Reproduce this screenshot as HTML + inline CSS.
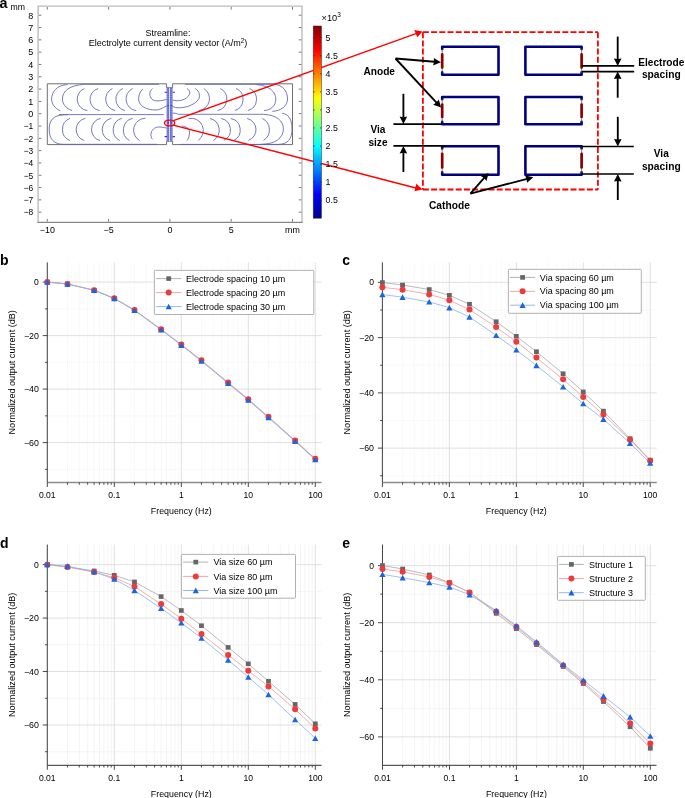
<!DOCTYPE html>
<html><head><meta charset="utf-8"><style>
html,body{margin:0;padding:0;background:#fff;width:685px;height:798px;overflow:hidden}
svg text{font-family:'Liberation Sans',sans-serif}
svg{will-change:transform}
</style></head><body>
<svg width="685" height="798" viewBox="0 0 685 798" style="display:block;font-family:'Liberation Sans',sans-serif"><text x="-0.5" y="7.7" font-size="14.4" font-weight="bold">a</text>
<text x="10.6" y="10.2" font-size="8.8" textLength="14.5" lengthAdjust="spacingAndGlyphs" fill="#000">mm</text>
<path d="M38.1 222.2V6.1H302V222.2" fill="none" stroke="#bcbcbc" stroke-width="1.4"/>
<path d="M37.4 222.3H302.7" fill="none" stroke="#6a6a6a" stroke-width="1.0"/>
<path d="M38.8 212.18h2.6M301.4 212.18h-2.6" stroke="#555" stroke-width="0.8"/>
<text x="33.3" y="215.48000000000002" font-size="9.0" text-anchor="end" textLength="9.6" lengthAdjust="spacingAndGlyphs" fill="#000">&#8722;8</text>
<path d="M38.8 199.87h2.6M301.4 199.87h-2.6" stroke="#555" stroke-width="0.8"/>
<text x="33.3" y="203.17000000000002" font-size="9.0" text-anchor="end" textLength="9.6" lengthAdjust="spacingAndGlyphs" fill="#000">&#8722;7</text>
<path d="M38.8 187.56h2.6M301.4 187.56h-2.6" stroke="#555" stroke-width="0.8"/>
<text x="33.3" y="190.86" font-size="9.0" text-anchor="end" textLength="9.6" lengthAdjust="spacingAndGlyphs" fill="#000">&#8722;6</text>
<path d="M38.8 175.25h2.6M301.4 175.25h-2.6" stroke="#555" stroke-width="0.8"/>
<text x="33.3" y="178.55" font-size="9.0" text-anchor="end" textLength="9.6" lengthAdjust="spacingAndGlyphs" fill="#000">&#8722;5</text>
<path d="M38.8 162.94h2.6M301.4 162.94h-2.6" stroke="#555" stroke-width="0.8"/>
<text x="33.3" y="166.24" font-size="9.0" text-anchor="end" textLength="9.6" lengthAdjust="spacingAndGlyphs" fill="#000">&#8722;4</text>
<path d="M38.8 150.63h2.6M301.4 150.63h-2.6" stroke="#555" stroke-width="0.8"/>
<text x="33.3" y="153.93" font-size="9.0" text-anchor="end" textLength="9.6" lengthAdjust="spacingAndGlyphs" fill="#000">&#8722;3</text>
<path d="M38.8 138.32h2.6M301.4 138.32h-2.6" stroke="#555" stroke-width="0.8"/>
<text x="33.3" y="141.62" font-size="9.0" text-anchor="end" textLength="9.6" lengthAdjust="spacingAndGlyphs" fill="#000">&#8722;2</text>
<path d="M38.8 126.01h2.6M301.4 126.01h-2.6" stroke="#555" stroke-width="0.8"/>
<text x="33.3" y="129.31" font-size="9.0" text-anchor="end" textLength="9.6" lengthAdjust="spacingAndGlyphs" fill="#000">&#8722;1</text>
<path d="M38.8 113.70h2.6M301.4 113.70h-2.6" stroke="#555" stroke-width="0.8"/>
<text x="33.3" y="117.0" font-size="9.0" text-anchor="end" fill="#000">0</text>
<path d="M38.8 101.39h2.6M301.4 101.39h-2.6" stroke="#555" stroke-width="0.8"/>
<text x="33.3" y="104.69" font-size="9.0" text-anchor="end" fill="#000">1</text>
<path d="M38.8 89.08h2.6M301.4 89.08h-2.6" stroke="#555" stroke-width="0.8"/>
<text x="33.3" y="92.38" font-size="9.0" text-anchor="end" fill="#000">2</text>
<path d="M38.8 76.77h2.6M301.4 76.77h-2.6" stroke="#555" stroke-width="0.8"/>
<text x="33.3" y="80.07000000000001" font-size="9.0" text-anchor="end" fill="#000">3</text>
<path d="M38.8 64.46h2.6M301.4 64.46h-2.6" stroke="#555" stroke-width="0.8"/>
<text x="33.3" y="67.76" font-size="9.0" text-anchor="end" fill="#000">4</text>
<path d="M38.8 52.15h2.6M301.4 52.15h-2.6" stroke="#555" stroke-width="0.8"/>
<text x="33.3" y="55.449999999999996" font-size="9.0" text-anchor="end" fill="#000">5</text>
<path d="M38.8 39.84h2.6M301.4 39.84h-2.6" stroke="#555" stroke-width="0.8"/>
<text x="33.3" y="43.14" font-size="9.0" text-anchor="end" fill="#000">6</text>
<path d="M38.8 27.53h2.6M301.4 27.53h-2.6" stroke="#555" stroke-width="0.8"/>
<text x="33.3" y="30.830000000000002" font-size="9.0" text-anchor="end" fill="#000">7</text>
<path d="M38.8 15.22h2.6M301.4 15.22h-2.6" stroke="#555" stroke-width="0.8"/>
<text x="33.3" y="18.52" font-size="9.0" text-anchor="end" fill="#000">8</text>
<path d="M47.30 221.6v-2.6M47.30 7v2.6" stroke="#555" stroke-width="0.8"/>
<text x="47.30000000000001" y="233.4" font-size="8.9" text-anchor="middle" fill="#000">&#8722;10</text>
<path d="M108.60 221.6v-2.6M108.60 7v2.6" stroke="#555" stroke-width="0.8"/>
<text x="108.60000000000001" y="233.4" font-size="8.9" text-anchor="middle" fill="#000">&#8722;5</text>
<path d="M169.90 221.6v-2.6M169.90 7v2.6" stroke="#555" stroke-width="0.8"/>
<text x="169.9" y="233.4" font-size="8.9" text-anchor="middle" fill="#000">0</text>
<path d="M231.20 221.6v-2.6M231.20 7v2.6" stroke="#555" stroke-width="0.8"/>
<text x="231.2" y="233.4" font-size="8.9" text-anchor="middle" fill="#000">5</text>
<path d="M292.50 221.6v-2.6M292.50 7v2.6" stroke="#555" stroke-width="0.8"/>
<text x="292.5" y="233.4" font-size="8.9" text-anchor="middle" fill="#000">mm</text>
<text x="168" y="35.5" font-size="8.9" text-anchor="middle" fill="#000">Streamline:</text>
<text x="88.7" y="46.4" font-size="9">Electrolyte current density vector (A/m<tspan dy="-3.6" font-size="6.3">2</tspan><tspan dy="3.6">)</tspan></text>
<path d="M47.3 83.8H166.6V87.6H172.6V83.8H292.5V144.6H172.6V141.3H166.6V144.6H47.3Z" fill="none" stroke="#707070" stroke-width="1"/>
<rect x="166.6" y="87.6" width="6" height="53.7" fill="#7888ea"/>
<path d="M168.3 88.2V141M170.8 88.2V141" stroke="#3c48e0" stroke-width="1.0" stroke-dasharray="1 1.2" opacity="0.8"/>
<path d="M169.55 87.6V141.3" stroke="#ffffff" stroke-width="0.9" opacity="0.9"/>
<path d="M166.9 88.5V141M172.3 88.5V141" stroke="#d06050" stroke-width="0.6" stroke-dasharray="0.8 1.4" opacity="0.8"/>
<path d="M164.6 92.3h2.4M172.6 92.3h2.4M164.6 136.6h2.4M172.6 136.6h2.4M167.2 105.7h1.6M170.6 105.7h1.6M167.2 122.9h1.6M170.6 122.9h1.6" stroke="#2a3ad0" stroke-width="1.1"/>
<g fill="none" stroke="#5e60b6" stroke-width="0.85"><path d="M67.5 84.6C57 85 51.6 92 51.6 99C51.6 104 55 108.5 60.3 110.7"/><path d="M84.3 84.4C70 85 62.4 91 62.4 99C62.4 104 66 108.5 72.1 110.5"/><path d="M84.3 88.5A11.53 11.53 0 0 0 87.4 110.6"/><path d="M98.1 88.5A11.35 11.35 0 0 0 99.7 110.6"/><path d="M112.4 88.5A11.72 11.72 0 0 0 115.2 110.6"/><path d="M122.9 88.5A11.70 11.70 0 0 0 124.9 110.6"/><path d="M132.6 88.5A11.68 11.68 0 0 0 136.2 110.6"/><path d="M84.3 84.3H159"/><path d="M142.8 89C139.5 92 138.5 96 138.7 100C139.5 106 146 110 156 110C160 110 162 108 166.6 106"/><path d="M152.5 88.5C149.5 91 149 95 151 98C153 101 157 102 166.6 99.4"/><path d="M59 114.6H163.8"/><path d="M68 114.6C56 114.6 49.3 117.5 49.2 129C49.1 140 55 144.3 63 144.3H157"/><path d="M70 118.3A11.98 11.98 0 0 0 70 140.6"/><path d="M85.4 118.3A11.53 11.53 0 0 0 84.3 140.6"/><path d="M100.7 118.3A11.46 11.46 0 0 0 100 140.6"/><path d="M111.4 118.3A11.59 11.59 0 0 0 110 140.6"/><path d="M121.9 118.3A12.03 12.03 0 0 0 119.8 140.6"/><path d="M132.6 118.3A12.12 12.12 0 0 0 129.5 140.6"/><path d="M145.4 118.3A11.90 11.90 0 0 0 139.7 140.6"/><path d="M166.6 128C161 127 157 126 153.5 129C150 132 150.5 137 152.5 139.3"/><path d="M172.6 100C178 102 187 100 189.5 94.3C190.5 91.5 189 89.5 187 88.7"/><path d="M172.6 106.6C180 110 195 106 199 98.5C200.5 94 198 90 195.1 88.5"/><path d="M203.8 88.5A11.89 11.89 0 0 1 198.7 110.5"/><path d="M220.2 88.5A11.73 11.73 0 0 1 217.6 110.5"/><path d="M236.1 88.5A11.79 11.79 0 0 1 234.9 110.5"/><path d="M249.5 88.5A11.68 11.68 0 0 1 247.8 110.5"/><path d="M256.5 84.5C270 86 275.8 92 275.8 99C275.8 106 271 110 264.1 110.6"/><path d="M274 84.3C283 85 287.5 91 287.5 99C287.5 106 281 111 272.3 111.3"/><path d="M185 84.3H274"/><path d="M172.6 113.2H175.2C176.5 113.2 177 114.3 178.6 114.3H263.5"/><path d="M181.9 126C186 126.5 189.5 128.5 189.5 132C189.5 136 188.5 139 187 140.5"/><path d="M188.5 118.5A12.22 12.22 0 0 1 198.2 140.4"/><path d="M210 118.5A11.99 11.99 0 0 1 213.5 140.4"/><path d="M221.2 118.5A11.65 11.65 0 0 1 223.8 140.4"/><path d="M230.8 118.5A11.69 11.69 0 0 1 233.8 140.4"/><path d="M247.2 118.5A11.43 11.43 0 0 1 248.4 140.4"/><path d="M262.4 118.5A12.54 12.54 0 0 1 263.5 140.4"/><path d="M263.5 114.3C277 115 283.4 121 283.4 129C283.4 138 275 144.3 261.2 144.3"/><path d="M282.2 113.4C289 114 292 120 292 129C292 139 288 144.3 278.1 144.4"/><path d="M180.3 144.4H278"/></g>
<ellipse cx="169.6" cy="123" rx="5.1" ry="2.9" fill="none" stroke="#ff0000" stroke-width="1.4"/>
<path d="M173.4 120.7L416 33.6M173.2 125.1L416.8 188.2" stroke="#ff0000" stroke-width="1.4"/>
<path d="M422.6 31.4L414.2 30.1L417.3 37.2Z" fill="#ff0000"/>
<path d="M422.6 189.4L416.4 183.7L414.4 191.3Z" fill="#ff0000"/>
<defs><linearGradient id="jet" x1="0" y1="1" x2="0" y2="0"><stop offset="0" stop-color="#00008f"/><stop offset="0.125" stop-color="#0000ff"/><stop offset="0.375" stop-color="#00ffff"/><stop offset="0.625" stop-color="#ffff00"/><stop offset="0.875" stop-color="#ff0000"/><stop offset="1" stop-color="#800000"/></linearGradient></defs>
<rect x="313.2" y="26" width="8.3" height="192.2" fill="url(#jet)" stroke="#333" stroke-width="0.5"/>
<path d="M321.5 200.20h-1.5M313.2 200.20h1.5" stroke="#222" stroke-width="0.7"/>
<text x="325.6" y="203.29999999999998" font-size="8.8" fill="#000">0.5</text>
<path d="M321.5 182.14h-1.5M313.2 182.14h1.5" stroke="#222" stroke-width="0.7"/>
<text x="325.6" y="185.23999999999998" font-size="8.8" fill="#000">1</text>
<path d="M321.5 164.08h-1.5M313.2 164.08h1.5" stroke="#222" stroke-width="0.7"/>
<text x="325.6" y="167.17999999999998" font-size="8.8" fill="#000">1.5</text>
<path d="M321.5 146.02h-1.5M313.2 146.02h1.5" stroke="#222" stroke-width="0.7"/>
<text x="325.6" y="149.11999999999998" font-size="8.8" fill="#000">2</text>
<path d="M321.5 127.96h-1.5M313.2 127.96h1.5" stroke="#222" stroke-width="0.7"/>
<text x="325.6" y="131.06" font-size="8.8" fill="#000">2.5</text>
<path d="M321.5 109.90h-1.5M313.2 109.90h1.5" stroke="#222" stroke-width="0.7"/>
<text x="325.6" y="112.99999999999999" font-size="8.8" fill="#000">3</text>
<path d="M321.5 91.84h-1.5M313.2 91.84h1.5" stroke="#222" stroke-width="0.7"/>
<text x="325.6" y="94.94" font-size="8.8" fill="#000">3.5</text>
<path d="M321.5 73.78h-1.5M313.2 73.78h1.5" stroke="#222" stroke-width="0.7"/>
<text x="325.6" y="76.88" font-size="8.8" fill="#000">4</text>
<path d="M321.5 55.72h-1.5M313.2 55.72h1.5" stroke="#222" stroke-width="0.7"/>
<text x="325.6" y="58.82" font-size="8.8" fill="#000">4.5</text>
<path d="M321.5 37.66h-1.5M313.2 37.66h1.5" stroke="#222" stroke-width="0.7"/>
<text x="325.6" y="40.76" font-size="8.8" fill="#000">5</text>
<text x="321.6" y="20.8" font-size="9.2">&#215;10<tspan dy="-3.9" font-size="6.4">3</tspan></text>
<path d="M422.9 32.2H597.9M422.9 32.2V189.5M422.9 189.5H597.9M597.9 32.2V189.5" fill="none" stroke="#ff0000" stroke-width="1.8" stroke-dasharray="6 2.2"/>
<path d="M442.2 49.099999999999994V46.8H498.5V74.7H442.2V72.4" fill="none" stroke="#000080" stroke-width="2.6" stroke-linejoin="round" stroke-linecap="round"/>
<path d="M442.2 48.8V72.7" stroke="#555" stroke-width="0.7"/>
<path d="M442.2 54.4V67.5" stroke="#8b0000" stroke-width="2.7" stroke-linecap="round"/>
<path d="M581.6 49.099999999999994V46.8H525.4V74.7H581.6V72.4" fill="none" stroke="#000080" stroke-width="2.6" stroke-linejoin="round" stroke-linecap="round"/>
<path d="M581.6 48.8V72.7" stroke="#555" stroke-width="0.7"/>
<path d="M581.6 54.4V67.5" stroke="#8b0000" stroke-width="2.7" stroke-linecap="round"/>
<path d="M442.2 99.3V97H498.5V124.2H442.2V121.9" fill="none" stroke="#000080" stroke-width="2.6" stroke-linejoin="round" stroke-linecap="round"/>
<path d="M442.2 99V122.2" stroke="#555" stroke-width="0.7"/>
<path d="M442.2 104.6V117.0" stroke="#8b0000" stroke-width="2.7" stroke-linecap="round"/>
<path d="M581.6 99.3V97H525.4V124.2H581.6V121.9" fill="none" stroke="#000080" stroke-width="2.6" stroke-linejoin="round" stroke-linecap="round"/>
<path d="M581.6 99V122.2" stroke="#555" stroke-width="0.7"/>
<path d="M581.6 104.6V117.0" stroke="#8b0000" stroke-width="2.7" stroke-linecap="round"/>
<path d="M442.2 148.5V146.2H498.5V174.7H442.2V172.39999999999998" fill="none" stroke="#000080" stroke-width="2.6" stroke-linejoin="round" stroke-linecap="round"/>
<path d="M442.2 148.2V172.7" stroke="#555" stroke-width="0.7"/>
<path d="M442.2 153.79999999999998V167.5" stroke="#8b0000" stroke-width="2.7" stroke-linecap="round"/>
<path d="M581.6 148.5V146.2H525.4V174.7H581.6V172.39999999999998" fill="none" stroke="#000080" stroke-width="2.6" stroke-linejoin="round" stroke-linecap="round"/>
<path d="M581.6 148.2V172.7" stroke="#555" stroke-width="0.7"/>
<path d="M581.6 153.79999999999998V167.5" stroke="#8b0000" stroke-width="2.7" stroke-linecap="round"/>
<path d="M395.50 58.50L434.52 61.77" stroke="#000" stroke-width="1.85"/>
<path d="M440.90 62.30L433.11 65.46L434.02 61.72L433.74 57.89Z" fill="#000"/>
<path d="M395.50 58.50L436.74 102.91" stroke="#000" stroke-width="1.85"/>
<path d="M441.10 107.60L433.21 104.69L436.40 102.54L438.78 99.52Z" fill="#000"/>
<path d="M470.40 193.70L484.39 177.72" stroke="#000" stroke-width="1.85"/>
<path d="M488.60 172.90L486.52 181.05L484.06 178.09L480.80 176.04Z" fill="#000"/>
<path d="M470.40 193.70L527.11 178.82" stroke="#000" stroke-width="1.85"/>
<path d="M533.30 177.20L527.01 182.78L526.63 178.95L525.08 175.43Z" fill="#000"/>
<path d="M582 65.9H634.2M582 71.6H634.2" stroke="#000" stroke-width="1.7"/>
<path d="M617.70 36.60L617.70 59.50" stroke="#000" stroke-width="1.85"/>
<path d="M617.70 65.90L613.90 58.40L617.70 59.00L621.50 58.40Z" fill="#000"/>
<path d="M617.70 97.70L617.70 78.00" stroke="#000" stroke-width="1.85"/>
<path d="M617.70 71.60L621.50 79.10L617.70 78.50L613.90 79.10Z" fill="#000"/>
<path d="M393.4 124.1H442M393.4 145.9H445" stroke="#000" stroke-width="1.7"/>
<path d="M403.40 93.80L403.40 117.70" stroke="#000" stroke-width="1.85"/>
<path d="M403.40 124.10L399.60 116.60L403.40 117.20L407.20 116.60Z" fill="#000"/>
<path d="M403.40 172.00L403.40 152.30" stroke="#000" stroke-width="1.85"/>
<path d="M403.40 145.90L407.20 153.40L403.40 152.80L399.60 153.40Z" fill="#000"/>
<path d="M581.6 146.5H633.8M581.6 174H633.8" stroke="#000" stroke-width="1.7"/>
<path d="M617.80 116.80L617.80 140.10" stroke="#000" stroke-width="1.85"/>
<path d="M617.80 146.50L614.00 139.00L617.80 139.60L621.60 139.00Z" fill="#000"/>
<path d="M617.80 200.00L617.80 180.40" stroke="#000" stroke-width="1.85"/>
<path d="M617.80 174.00L621.60 181.50L617.80 180.90L614.00 181.50Z" fill="#000"/>
<text x="363.4" y="75.4" font-size="10.1" font-weight="bold" textLength="31.6" lengthAdjust="spacingAndGlyphs" fill="#000">Anode</text>
<text x="378" y="133.2" font-size="10.1" text-anchor="middle" font-weight="bold" fill="#000">Via</text>
<text x="378" y="145.5" font-size="10.1" text-anchor="middle" font-weight="bold" fill="#000">size</text>
<text x="429" y="208.5" font-size="10.1" font-weight="bold" textLength="40.8" lengthAdjust="spacingAndGlyphs" fill="#000">Cathode</text>
<text x="661.3" y="66" font-size="10.1" text-anchor="middle" font-weight="bold" textLength="46.2" lengthAdjust="spacingAndGlyphs" fill="#000">Electrode</text>
<text x="661.3" y="78" font-size="10.1" text-anchor="middle" font-weight="bold" textLength="38.8" lengthAdjust="spacingAndGlyphs" fill="#000">spacing</text>
<text x="661.3" y="156.9" font-size="10.1" text-anchor="middle" font-weight="bold" fill="#000">Via</text>
<text x="661.3" y="169.5" font-size="10.1" text-anchor="middle" font-weight="bold" textLength="38.8" lengthAdjust="spacingAndGlyphs" fill="#000">spacing</text>
<text x="0" y="265.3" font-size="14" font-weight="bold" fill="#000">b</text>
<path d="M47.30 262.4V482.5" stroke="#dcdcdc" stroke-width="0.9"/><path d="M67.47 262.4V482.5" stroke="#e9e9e9" stroke-width="0.7" stroke-dasharray="0.8 1.2"/><path d="M79.27 262.4V482.5" stroke="#e9e9e9" stroke-width="0.7" stroke-dasharray="0.8 1.2"/><path d="M87.64 262.4V482.5" stroke="#e9e9e9" stroke-width="0.7" stroke-dasharray="0.8 1.2"/><path d="M94.13 262.4V482.5" stroke="#e9e9e9" stroke-width="0.7" stroke-dasharray="0.8 1.2"/><path d="M99.44 262.4V482.5" stroke="#e9e9e9" stroke-width="0.7" stroke-dasharray="0.8 1.2"/><path d="M103.92 262.4V482.5" stroke="#e9e9e9" stroke-width="0.7" stroke-dasharray="0.8 1.2"/><path d="M107.81 262.4V482.5" stroke="#e9e9e9" stroke-width="0.7" stroke-dasharray="0.8 1.2"/><path d="M111.23 262.4V482.5" stroke="#e9e9e9" stroke-width="0.7" stroke-dasharray="0.8 1.2"/><path d="M114.30 262.4V482.5" stroke="#dcdcdc" stroke-width="0.9"/><path d="M134.47 262.4V482.5" stroke="#e9e9e9" stroke-width="0.7" stroke-dasharray="0.8 1.2"/><path d="M146.27 262.4V482.5" stroke="#e9e9e9" stroke-width="0.7" stroke-dasharray="0.8 1.2"/><path d="M154.64 262.4V482.5" stroke="#e9e9e9" stroke-width="0.7" stroke-dasharray="0.8 1.2"/><path d="M161.13 262.4V482.5" stroke="#e9e9e9" stroke-width="0.7" stroke-dasharray="0.8 1.2"/><path d="M166.44 262.4V482.5" stroke="#e9e9e9" stroke-width="0.7" stroke-dasharray="0.8 1.2"/><path d="M170.92 262.4V482.5" stroke="#e9e9e9" stroke-width="0.7" stroke-dasharray="0.8 1.2"/><path d="M174.81 262.4V482.5" stroke="#e9e9e9" stroke-width="0.7" stroke-dasharray="0.8 1.2"/><path d="M178.23 262.4V482.5" stroke="#e9e9e9" stroke-width="0.7" stroke-dasharray="0.8 1.2"/><path d="M181.30 262.4V482.5" stroke="#dcdcdc" stroke-width="0.9"/><path d="M201.47 262.4V482.5" stroke="#e9e9e9" stroke-width="0.7" stroke-dasharray="0.8 1.2"/><path d="M213.27 262.4V482.5" stroke="#e9e9e9" stroke-width="0.7" stroke-dasharray="0.8 1.2"/><path d="M221.64 262.4V482.5" stroke="#e9e9e9" stroke-width="0.7" stroke-dasharray="0.8 1.2"/><path d="M228.13 262.4V482.5" stroke="#e9e9e9" stroke-width="0.7" stroke-dasharray="0.8 1.2"/><path d="M233.44 262.4V482.5" stroke="#e9e9e9" stroke-width="0.7" stroke-dasharray="0.8 1.2"/><path d="M237.92 262.4V482.5" stroke="#e9e9e9" stroke-width="0.7" stroke-dasharray="0.8 1.2"/><path d="M241.81 262.4V482.5" stroke="#e9e9e9" stroke-width="0.7" stroke-dasharray="0.8 1.2"/><path d="M245.23 262.4V482.5" stroke="#e9e9e9" stroke-width="0.7" stroke-dasharray="0.8 1.2"/><path d="M248.30 262.4V482.5" stroke="#dcdcdc" stroke-width="0.9"/><path d="M268.47 262.4V482.5" stroke="#e9e9e9" stroke-width="0.7" stroke-dasharray="0.8 1.2"/><path d="M280.27 262.4V482.5" stroke="#e9e9e9" stroke-width="0.7" stroke-dasharray="0.8 1.2"/><path d="M288.64 262.4V482.5" stroke="#e9e9e9" stroke-width="0.7" stroke-dasharray="0.8 1.2"/><path d="M295.13 262.4V482.5" stroke="#e9e9e9" stroke-width="0.7" stroke-dasharray="0.8 1.2"/><path d="M300.44 262.4V482.5" stroke="#e9e9e9" stroke-width="0.7" stroke-dasharray="0.8 1.2"/><path d="M304.92 262.4V482.5" stroke="#e9e9e9" stroke-width="0.7" stroke-dasharray="0.8 1.2"/><path d="M308.81 262.4V482.5" stroke="#e9e9e9" stroke-width="0.7" stroke-dasharray="0.8 1.2"/><path d="M312.23 262.4V482.5" stroke="#e9e9e9" stroke-width="0.7" stroke-dasharray="0.8 1.2"/><path d="M315.30 262.4V482.5" stroke="#dcdcdc" stroke-width="0.9"/><path d="M47.3 282.10H321.6" stroke="#dcdcdc" stroke-width="0.9"/><path d="M47.3 308.85H321.6" stroke="#e9e9e9" stroke-width="0.7" stroke-dasharray="0.8 1.2"/><path d="M47.3 335.60H321.6" stroke="#dcdcdc" stroke-width="0.9"/><path d="M47.3 362.35H321.6" stroke="#e9e9e9" stroke-width="0.7" stroke-dasharray="0.8 1.2"/><path d="M47.3 389.10H321.6" stroke="#dcdcdc" stroke-width="0.9"/><path d="M47.3 415.85H321.6" stroke="#e9e9e9" stroke-width="0.7" stroke-dasharray="0.8 1.2"/><path d="M47.3 442.60H321.6" stroke="#dcdcdc" stroke-width="0.9"/><path d="M47.3 469.35H321.6" stroke="#e9e9e9" stroke-width="0.7" stroke-dasharray="0.8 1.2"/>
<path d="M47.3 482.5H321.6" fill="none" stroke="#8c8c8c" stroke-width="1.4"/>
<path d="M47.3 262.4V482.5" fill="none" stroke="#333" stroke-width="0.9"/>
<path d="M47.30 482.5v4.5" stroke="#333" stroke-width="0.9"/><path d="M67.47 482.5v2.2" stroke="#333" stroke-width="0.9"/><path d="M79.27 482.5v2.2" stroke="#333" stroke-width="0.9"/><path d="M87.64 482.5v2.2" stroke="#333" stroke-width="0.9"/><path d="M94.13 482.5v2.2" stroke="#333" stroke-width="0.9"/><path d="M99.44 482.5v2.2" stroke="#333" stroke-width="0.9"/><path d="M103.92 482.5v2.2" stroke="#333" stroke-width="0.9"/><path d="M107.81 482.5v2.2" stroke="#333" stroke-width="0.9"/><path d="M111.23 482.5v2.2" stroke="#333" stroke-width="0.9"/><path d="M114.30 482.5v4.5" stroke="#333" stroke-width="0.9"/><path d="M134.47 482.5v2.2" stroke="#333" stroke-width="0.9"/><path d="M146.27 482.5v2.2" stroke="#333" stroke-width="0.9"/><path d="M154.64 482.5v2.2" stroke="#333" stroke-width="0.9"/><path d="M161.13 482.5v2.2" stroke="#333" stroke-width="0.9"/><path d="M166.44 482.5v2.2" stroke="#333" stroke-width="0.9"/><path d="M170.92 482.5v2.2" stroke="#333" stroke-width="0.9"/><path d="M174.81 482.5v2.2" stroke="#333" stroke-width="0.9"/><path d="M178.23 482.5v2.2" stroke="#333" stroke-width="0.9"/><path d="M181.30 482.5v4.5" stroke="#333" stroke-width="0.9"/><path d="M201.47 482.5v2.2" stroke="#333" stroke-width="0.9"/><path d="M213.27 482.5v2.2" stroke="#333" stroke-width="0.9"/><path d="M221.64 482.5v2.2" stroke="#333" stroke-width="0.9"/><path d="M228.13 482.5v2.2" stroke="#333" stroke-width="0.9"/><path d="M233.44 482.5v2.2" stroke="#333" stroke-width="0.9"/><path d="M237.92 482.5v2.2" stroke="#333" stroke-width="0.9"/><path d="M241.81 482.5v2.2" stroke="#333" stroke-width="0.9"/><path d="M245.23 482.5v2.2" stroke="#333" stroke-width="0.9"/><path d="M248.30 482.5v4.5" stroke="#333" stroke-width="0.9"/><path d="M268.47 482.5v2.2" stroke="#333" stroke-width="0.9"/><path d="M280.27 482.5v2.2" stroke="#333" stroke-width="0.9"/><path d="M288.64 482.5v2.2" stroke="#333" stroke-width="0.9"/><path d="M295.13 482.5v2.2" stroke="#333" stroke-width="0.9"/><path d="M300.44 482.5v2.2" stroke="#333" stroke-width="0.9"/><path d="M304.92 482.5v2.2" stroke="#333" stroke-width="0.9"/><path d="M308.81 482.5v2.2" stroke="#333" stroke-width="0.9"/><path d="M312.23 482.5v2.2" stroke="#333" stroke-width="0.9"/><path d="M315.30 482.5v4.5" stroke="#333" stroke-width="0.9"/>
<path d="M47.3 282.10h-4.5" stroke="#333" stroke-width="0.9"/>
<text x="38.9" y="285.1" font-size="8.6" text-anchor="end" fill="#000">0</text>
<path d="M47.3 308.85h-2.2" stroke="#333" stroke-width="0.9"/>
<path d="M47.3 335.60h-4.5" stroke="#333" stroke-width="0.9"/>
<text x="38.9" y="338.6" font-size="8.6" text-anchor="end" textLength="15.0" lengthAdjust="spacingAndGlyphs" fill="#000">&#8722;20</text>
<path d="M47.3 362.35h-2.2" stroke="#333" stroke-width="0.9"/>
<path d="M47.3 389.10h-4.5" stroke="#333" stroke-width="0.9"/>
<text x="38.9" y="392.1" font-size="8.6" text-anchor="end" textLength="15.0" lengthAdjust="spacingAndGlyphs" fill="#000">&#8722;40</text>
<path d="M47.3 415.85h-2.2" stroke="#333" stroke-width="0.9"/>
<path d="M47.3 442.60h-4.5" stroke="#333" stroke-width="0.9"/>
<text x="38.9" y="445.6" font-size="8.6" text-anchor="end" textLength="15.0" lengthAdjust="spacingAndGlyphs" fill="#000">&#8722;60</text>
<path d="M47.3 469.35h-2.2" stroke="#333" stroke-width="0.9"/>
<text x="47.3" y="498.2" font-size="8.6" text-anchor="middle" fill="#000">0.01</text>
<text x="114.3" y="498.2" font-size="8.6" text-anchor="middle" fill="#000">0.1</text>
<text x="181.3" y="498.2" font-size="8.6" text-anchor="middle" fill="#000">1</text>
<text x="248.3" y="498.2" font-size="8.6" text-anchor="middle" fill="#000">10</text>
<text x="315.3" y="498.2" font-size="8.6" text-anchor="middle" fill="#000">100</text>
<text x="181.3" y="514.0" font-size="8.9" text-anchor="middle" textLength="61" lengthAdjust="spacingAndGlyphs" fill="#000">Frequency (Hz)</text>
<text transform="translate(14.8 372.3) rotate(-90)" x="0" y="0" font-size="9" text-anchor="middle" textLength="124.4" lengthAdjust="spacingAndGlyphs">Normalized output current (dB)</text>
<polyline points="47.30,282.10 67.47,284.00 94.13,290.20 114.30,298.40 134.47,310.20 161.13,329.50 181.30,344.80 201.47,360.70 228.13,382.90 248.30,399.60 268.47,417.20 295.13,440.90 315.30,459.10" fill="none" stroke="#a8a8a8" stroke-width="0.8"/>
<polyline points="47.30,282.10 67.47,284.00 94.13,290.20 114.30,298.30 134.47,310.00 161.13,329.20 181.30,344.50 201.47,360.30 228.13,382.50 248.30,399.20 268.47,416.80 295.13,440.50 315.30,458.70" fill="none" stroke="#f39a9a" stroke-width="0.8"/>
<polyline points="47.30,282.10 67.47,284.00 94.13,290.30 114.30,298.50 134.47,310.40 161.13,329.80 181.30,345.20 201.47,361.10 228.13,383.30 248.30,400.10 268.47,417.60 295.13,441.40 315.30,459.60" fill="none" stroke="#86b2ee" stroke-width="0.8"/>
<rect x="44.90" y="279.80" width="4.8" height="4.6" fill="#666666"/>
<rect x="65.07" y="281.70" width="4.8" height="4.6" fill="#666666"/>
<rect x="91.73" y="287.90" width="4.8" height="4.6" fill="#666666"/>
<rect x="111.90" y="296.10" width="4.8" height="4.6" fill="#666666"/>
<rect x="132.07" y="307.90" width="4.8" height="4.6" fill="#666666"/>
<rect x="158.73" y="327.20" width="4.8" height="4.6" fill="#666666"/>
<rect x="178.90" y="342.50" width="4.8" height="4.6" fill="#666666"/>
<rect x="199.07" y="358.40" width="4.8" height="4.6" fill="#666666"/>
<rect x="225.73" y="380.60" width="4.8" height="4.6" fill="#666666"/>
<rect x="245.90" y="397.30" width="4.8" height="4.6" fill="#666666"/>
<rect x="266.07" y="414.90" width="4.8" height="4.6" fill="#666666"/>
<rect x="292.73" y="438.60" width="4.8" height="4.6" fill="#666666"/>
<rect x="312.90" y="456.80" width="4.8" height="4.6" fill="#666666"/>
<circle cx="47.30" cy="282.10" r="3.0" fill="#ee3a3a"/>
<circle cx="67.47" cy="284.00" r="3.0" fill="#ee3a3a"/>
<circle cx="94.13" cy="290.20" r="3.0" fill="#ee3a3a"/>
<circle cx="114.30" cy="298.30" r="3.0" fill="#ee3a3a"/>
<circle cx="134.47" cy="310.00" r="3.0" fill="#ee3a3a"/>
<circle cx="161.13" cy="329.20" r="3.0" fill="#ee3a3a"/>
<circle cx="181.30" cy="344.50" r="3.0" fill="#ee3a3a"/>
<circle cx="201.47" cy="360.30" r="3.0" fill="#ee3a3a"/>
<circle cx="228.13" cy="382.50" r="3.0" fill="#ee3a3a"/>
<circle cx="248.30" cy="399.20" r="3.0" fill="#ee3a3a"/>
<circle cx="268.47" cy="416.80" r="3.0" fill="#ee3a3a"/>
<circle cx="295.13" cy="440.50" r="3.0" fill="#ee3a3a"/>
<circle cx="315.30" cy="458.70" r="3.0" fill="#ee3a3a"/>
<path d="M47.30 279.20L50.40 284.80H44.20Z" fill="#1a66dd"/>
<path d="M67.47 281.10L70.57 286.70H64.37Z" fill="#1a66dd"/>
<path d="M94.13 287.40L97.23 293.00H91.03Z" fill="#1a66dd"/>
<path d="M114.30 295.60L117.40 301.20H111.20Z" fill="#1a66dd"/>
<path d="M134.47 307.50L137.57 313.10H131.37Z" fill="#1a66dd"/>
<path d="M161.13 326.90L164.23 332.50H158.03Z" fill="#1a66dd"/>
<path d="M181.30 342.30L184.40 347.90H178.20Z" fill="#1a66dd"/>
<path d="M201.47 358.20L204.57 363.80H198.37Z" fill="#1a66dd"/>
<path d="M228.13 380.40L231.23 386.00H225.03Z" fill="#1a66dd"/>
<path d="M248.30 397.20L251.40 402.80H245.20Z" fill="#1a66dd"/>
<path d="M268.47 414.70L271.57 420.30H265.37Z" fill="#1a66dd"/>
<path d="M295.13 438.50L298.23 444.10H292.03Z" fill="#1a66dd"/>
<path d="M315.30 456.70L318.40 462.30H312.20Z" fill="#1a66dd"/>
<rect x="154.4" y="270.4" width="159.4" height="44.10000000000002" rx="0.8" fill="#fff" stroke="#a8a8a8" stroke-width="0.9"/>
<path d="M156.1 278.6H181.5" stroke="#a8a8a8" stroke-width="0.9"/>
<rect x="166.30" y="276.30" width="4.8" height="4.6" fill="#666666"/>
<text x="186" y="281.70000000000005" font-size="9" fill="#000">Electrode spacing 10 &#181;m</text>
<path d="M156.1 292.6H181.5" stroke="#f39a9a" stroke-width="0.9"/>
<circle cx="168.70" cy="292.60" r="3.0" fill="#ee3a3a"/>
<text x="186" y="295.70000000000005" font-size="9" fill="#000">Electrode spacing 20 &#181;m</text>
<path d="M156.1 306.6H181.5" stroke="#86b2ee" stroke-width="0.9"/>
<path d="M168.70 303.70L171.80 309.30H165.60Z" fill="#1a66dd"/>
<text x="186" y="309.70000000000005" font-size="9" fill="#000">Electrode spacing 30 &#181;m</text>
<text x="342.3" y="265.3" font-size="14" font-weight="bold" fill="#000">c</text>
<path d="M382.40 262.4V482.5" stroke="#dcdcdc" stroke-width="0.9"/><path d="M402.55 262.4V482.5" stroke="#e9e9e9" stroke-width="0.7" stroke-dasharray="0.8 1.2"/><path d="M414.34 262.4V482.5" stroke="#e9e9e9" stroke-width="0.7" stroke-dasharray="0.8 1.2"/><path d="M422.71 262.4V482.5" stroke="#e9e9e9" stroke-width="0.7" stroke-dasharray="0.8 1.2"/><path d="M429.20 262.4V482.5" stroke="#e9e9e9" stroke-width="0.7" stroke-dasharray="0.8 1.2"/><path d="M434.50 262.4V482.5" stroke="#e9e9e9" stroke-width="0.7" stroke-dasharray="0.8 1.2"/><path d="M438.98 262.4V482.5" stroke="#e9e9e9" stroke-width="0.7" stroke-dasharray="0.8 1.2"/><path d="M442.86 262.4V482.5" stroke="#e9e9e9" stroke-width="0.7" stroke-dasharray="0.8 1.2"/><path d="M446.29 262.4V482.5" stroke="#e9e9e9" stroke-width="0.7" stroke-dasharray="0.8 1.2"/><path d="M449.35 262.4V482.5" stroke="#dcdcdc" stroke-width="0.9"/><path d="M469.50 262.4V482.5" stroke="#e9e9e9" stroke-width="0.7" stroke-dasharray="0.8 1.2"/><path d="M481.29 262.4V482.5" stroke="#e9e9e9" stroke-width="0.7" stroke-dasharray="0.8 1.2"/><path d="M489.66 262.4V482.5" stroke="#e9e9e9" stroke-width="0.7" stroke-dasharray="0.8 1.2"/><path d="M496.15 262.4V482.5" stroke="#e9e9e9" stroke-width="0.7" stroke-dasharray="0.8 1.2"/><path d="M501.45 262.4V482.5" stroke="#e9e9e9" stroke-width="0.7" stroke-dasharray="0.8 1.2"/><path d="M505.93 262.4V482.5" stroke="#e9e9e9" stroke-width="0.7" stroke-dasharray="0.8 1.2"/><path d="M509.81 262.4V482.5" stroke="#e9e9e9" stroke-width="0.7" stroke-dasharray="0.8 1.2"/><path d="M513.24 262.4V482.5" stroke="#e9e9e9" stroke-width="0.7" stroke-dasharray="0.8 1.2"/><path d="M516.30 262.4V482.5" stroke="#dcdcdc" stroke-width="0.9"/><path d="M536.45 262.4V482.5" stroke="#e9e9e9" stroke-width="0.7" stroke-dasharray="0.8 1.2"/><path d="M548.24 262.4V482.5" stroke="#e9e9e9" stroke-width="0.7" stroke-dasharray="0.8 1.2"/><path d="M556.61 262.4V482.5" stroke="#e9e9e9" stroke-width="0.7" stroke-dasharray="0.8 1.2"/><path d="M563.10 262.4V482.5" stroke="#e9e9e9" stroke-width="0.7" stroke-dasharray="0.8 1.2"/><path d="M568.40 262.4V482.5" stroke="#e9e9e9" stroke-width="0.7" stroke-dasharray="0.8 1.2"/><path d="M572.88 262.4V482.5" stroke="#e9e9e9" stroke-width="0.7" stroke-dasharray="0.8 1.2"/><path d="M576.76 262.4V482.5" stroke="#e9e9e9" stroke-width="0.7" stroke-dasharray="0.8 1.2"/><path d="M580.19 262.4V482.5" stroke="#e9e9e9" stroke-width="0.7" stroke-dasharray="0.8 1.2"/><path d="M583.25 262.4V482.5" stroke="#dcdcdc" stroke-width="0.9"/><path d="M603.40 262.4V482.5" stroke="#e9e9e9" stroke-width="0.7" stroke-dasharray="0.8 1.2"/><path d="M615.19 262.4V482.5" stroke="#e9e9e9" stroke-width="0.7" stroke-dasharray="0.8 1.2"/><path d="M623.56 262.4V482.5" stroke="#e9e9e9" stroke-width="0.7" stroke-dasharray="0.8 1.2"/><path d="M630.05 262.4V482.5" stroke="#e9e9e9" stroke-width="0.7" stroke-dasharray="0.8 1.2"/><path d="M635.35 262.4V482.5" stroke="#e9e9e9" stroke-width="0.7" stroke-dasharray="0.8 1.2"/><path d="M639.83 262.4V482.5" stroke="#e9e9e9" stroke-width="0.7" stroke-dasharray="0.8 1.2"/><path d="M643.71 262.4V482.5" stroke="#e9e9e9" stroke-width="0.7" stroke-dasharray="0.8 1.2"/><path d="M647.14 262.4V482.5" stroke="#e9e9e9" stroke-width="0.7" stroke-dasharray="0.8 1.2"/><path d="M650.20 262.4V482.5" stroke="#dcdcdc" stroke-width="0.9"/><path d="M382.4 282.40H656.8" stroke="#dcdcdc" stroke-width="0.9"/><path d="M382.4 310.02H656.8" stroke="#e9e9e9" stroke-width="0.7" stroke-dasharray="0.8 1.2"/><path d="M382.4 337.64H656.8" stroke="#dcdcdc" stroke-width="0.9"/><path d="M382.4 365.26H656.8" stroke="#e9e9e9" stroke-width="0.7" stroke-dasharray="0.8 1.2"/><path d="M382.4 392.88H656.8" stroke="#dcdcdc" stroke-width="0.9"/><path d="M382.4 420.50H656.8" stroke="#e9e9e9" stroke-width="0.7" stroke-dasharray="0.8 1.2"/><path d="M382.4 448.12H656.8" stroke="#dcdcdc" stroke-width="0.9"/><path d="M382.4 475.74H656.8" stroke="#e9e9e9" stroke-width="0.7" stroke-dasharray="0.8 1.2"/>
<path d="M382.4 482.5H656.8" fill="none" stroke="#8c8c8c" stroke-width="1.4"/>
<path d="M382.4 262.4V482.5" fill="none" stroke="#333" stroke-width="0.9"/>
<path d="M382.40 482.5v4.5" stroke="#333" stroke-width="0.9"/><path d="M402.55 482.5v2.2" stroke="#333" stroke-width="0.9"/><path d="M414.34 482.5v2.2" stroke="#333" stroke-width="0.9"/><path d="M422.71 482.5v2.2" stroke="#333" stroke-width="0.9"/><path d="M429.20 482.5v2.2" stroke="#333" stroke-width="0.9"/><path d="M434.50 482.5v2.2" stroke="#333" stroke-width="0.9"/><path d="M438.98 482.5v2.2" stroke="#333" stroke-width="0.9"/><path d="M442.86 482.5v2.2" stroke="#333" stroke-width="0.9"/><path d="M446.29 482.5v2.2" stroke="#333" stroke-width="0.9"/><path d="M449.35 482.5v4.5" stroke="#333" stroke-width="0.9"/><path d="M469.50 482.5v2.2" stroke="#333" stroke-width="0.9"/><path d="M481.29 482.5v2.2" stroke="#333" stroke-width="0.9"/><path d="M489.66 482.5v2.2" stroke="#333" stroke-width="0.9"/><path d="M496.15 482.5v2.2" stroke="#333" stroke-width="0.9"/><path d="M501.45 482.5v2.2" stroke="#333" stroke-width="0.9"/><path d="M505.93 482.5v2.2" stroke="#333" stroke-width="0.9"/><path d="M509.81 482.5v2.2" stroke="#333" stroke-width="0.9"/><path d="M513.24 482.5v2.2" stroke="#333" stroke-width="0.9"/><path d="M516.30 482.5v4.5" stroke="#333" stroke-width="0.9"/><path d="M536.45 482.5v2.2" stroke="#333" stroke-width="0.9"/><path d="M548.24 482.5v2.2" stroke="#333" stroke-width="0.9"/><path d="M556.61 482.5v2.2" stroke="#333" stroke-width="0.9"/><path d="M563.10 482.5v2.2" stroke="#333" stroke-width="0.9"/><path d="M568.40 482.5v2.2" stroke="#333" stroke-width="0.9"/><path d="M572.88 482.5v2.2" stroke="#333" stroke-width="0.9"/><path d="M576.76 482.5v2.2" stroke="#333" stroke-width="0.9"/><path d="M580.19 482.5v2.2" stroke="#333" stroke-width="0.9"/><path d="M583.25 482.5v4.5" stroke="#333" stroke-width="0.9"/><path d="M603.40 482.5v2.2" stroke="#333" stroke-width="0.9"/><path d="M615.19 482.5v2.2" stroke="#333" stroke-width="0.9"/><path d="M623.56 482.5v2.2" stroke="#333" stroke-width="0.9"/><path d="M630.05 482.5v2.2" stroke="#333" stroke-width="0.9"/><path d="M635.35 482.5v2.2" stroke="#333" stroke-width="0.9"/><path d="M639.83 482.5v2.2" stroke="#333" stroke-width="0.9"/><path d="M643.71 482.5v2.2" stroke="#333" stroke-width="0.9"/><path d="M647.14 482.5v2.2" stroke="#333" stroke-width="0.9"/><path d="M650.20 482.5v4.5" stroke="#333" stroke-width="0.9"/>
<path d="M382.4 282.40h-4.5" stroke="#333" stroke-width="0.9"/>
<text x="374.0" y="285.4" font-size="8.6" text-anchor="end" fill="#000">0</text>
<path d="M382.4 310.02h-2.2" stroke="#333" stroke-width="0.9"/>
<path d="M382.4 337.64h-4.5" stroke="#333" stroke-width="0.9"/>
<text x="374.0" y="340.64" font-size="8.6" text-anchor="end" textLength="15.0" lengthAdjust="spacingAndGlyphs" fill="#000">&#8722;20</text>
<path d="M382.4 365.26h-2.2" stroke="#333" stroke-width="0.9"/>
<path d="M382.4 392.88h-4.5" stroke="#333" stroke-width="0.9"/>
<text x="374.0" y="395.88" font-size="8.6" text-anchor="end" textLength="15.0" lengthAdjust="spacingAndGlyphs" fill="#000">&#8722;40</text>
<path d="M382.4 420.50h-2.2" stroke="#333" stroke-width="0.9"/>
<path d="M382.4 448.12h-4.5" stroke="#333" stroke-width="0.9"/>
<text x="374.0" y="451.12" font-size="8.6" text-anchor="end" textLength="15.0" lengthAdjust="spacingAndGlyphs" fill="#000">&#8722;60</text>
<path d="M382.4 475.74h-2.2" stroke="#333" stroke-width="0.9"/>
<text x="382.4" y="498.2" font-size="8.6" text-anchor="middle" fill="#000">0.01</text>
<text x="449.34999999999997" y="498.2" font-size="8.6" text-anchor="middle" fill="#000">0.1</text>
<text x="516.3" y="498.2" font-size="8.6" text-anchor="middle" fill="#000">1</text>
<text x="583.25" y="498.2" font-size="8.6" text-anchor="middle" fill="#000">10</text>
<text x="650.2" y="498.2" font-size="8.6" text-anchor="middle" fill="#000">100</text>
<text x="516.3" y="514.0" font-size="8.9" text-anchor="middle" textLength="61" lengthAdjust="spacingAndGlyphs" fill="#000">Frequency (Hz)</text>
<text transform="translate(349.9 372.3) rotate(-90)" x="0" y="0" font-size="9" text-anchor="middle" textLength="124.4" lengthAdjust="spacingAndGlyphs">Normalized output current (dB)</text>
<polyline points="382.40,282.50 402.55,285.00 429.20,289.50 449.35,295.30 469.50,304.20 496.15,321.70 516.30,336.30 536.45,351.70 563.10,373.70 583.25,391.90 603.40,411.10 630.05,438.60 650.20,460.10" fill="none" stroke="#a8a8a8" stroke-width="0.8"/>
<polyline points="382.40,287.30 402.55,289.70 429.20,294.40 449.35,300.20 469.50,309.60 496.15,327.10 516.30,341.70 536.45,357.60 563.10,379.30 583.25,397.00 603.40,414.60 630.05,439.80 650.20,460.80" fill="none" stroke="#f39a9a" stroke-width="0.8"/>
<polyline points="382.40,294.50 402.55,297.20 429.20,301.90 449.35,307.70 469.50,317.00 496.15,335.30 516.30,349.90 536.45,365.50 563.10,386.80 583.25,403.60 603.40,419.20 630.05,443.30 650.20,463.10" fill="none" stroke="#86b2ee" stroke-width="0.8"/>
<rect x="380.00" y="280.20" width="4.8" height="4.6" fill="#666666"/>
<rect x="400.15" y="282.70" width="4.8" height="4.6" fill="#666666"/>
<rect x="426.80" y="287.20" width="4.8" height="4.6" fill="#666666"/>
<rect x="446.95" y="293.00" width="4.8" height="4.6" fill="#666666"/>
<rect x="467.10" y="301.90" width="4.8" height="4.6" fill="#666666"/>
<rect x="493.75" y="319.40" width="4.8" height="4.6" fill="#666666"/>
<rect x="513.90" y="334.00" width="4.8" height="4.6" fill="#666666"/>
<rect x="534.05" y="349.40" width="4.8" height="4.6" fill="#666666"/>
<rect x="560.70" y="371.40" width="4.8" height="4.6" fill="#666666"/>
<rect x="580.85" y="389.60" width="4.8" height="4.6" fill="#666666"/>
<rect x="601.00" y="408.80" width="4.8" height="4.6" fill="#666666"/>
<rect x="627.65" y="436.30" width="4.8" height="4.6" fill="#666666"/>
<rect x="647.80" y="457.80" width="4.8" height="4.6" fill="#666666"/>
<circle cx="382.40" cy="287.30" r="3.0" fill="#ee3a3a"/>
<circle cx="402.55" cy="289.70" r="3.0" fill="#ee3a3a"/>
<circle cx="429.20" cy="294.40" r="3.0" fill="#ee3a3a"/>
<circle cx="449.35" cy="300.20" r="3.0" fill="#ee3a3a"/>
<circle cx="469.50" cy="309.60" r="3.0" fill="#ee3a3a"/>
<circle cx="496.15" cy="327.10" r="3.0" fill="#ee3a3a"/>
<circle cx="516.30" cy="341.70" r="3.0" fill="#ee3a3a"/>
<circle cx="536.45" cy="357.60" r="3.0" fill="#ee3a3a"/>
<circle cx="563.10" cy="379.30" r="3.0" fill="#ee3a3a"/>
<circle cx="583.25" cy="397.00" r="3.0" fill="#ee3a3a"/>
<circle cx="603.40" cy="414.60" r="3.0" fill="#ee3a3a"/>
<circle cx="630.05" cy="439.80" r="3.0" fill="#ee3a3a"/>
<circle cx="650.20" cy="460.80" r="3.0" fill="#ee3a3a"/>
<path d="M382.40 291.60L385.50 297.20H379.30Z" fill="#1a66dd"/>
<path d="M402.55 294.30L405.65 299.90H399.45Z" fill="#1a66dd"/>
<path d="M429.20 299.00L432.30 304.60H426.10Z" fill="#1a66dd"/>
<path d="M449.35 304.80L452.45 310.40H446.25Z" fill="#1a66dd"/>
<path d="M469.50 314.10L472.60 319.70H466.40Z" fill="#1a66dd"/>
<path d="M496.15 332.40L499.25 338.00H493.05Z" fill="#1a66dd"/>
<path d="M516.30 347.00L519.40 352.60H513.20Z" fill="#1a66dd"/>
<path d="M536.45 362.60L539.55 368.20H533.35Z" fill="#1a66dd"/>
<path d="M563.10 383.90L566.20 389.50H560.00Z" fill="#1a66dd"/>
<path d="M583.25 400.70L586.35 406.30H580.15Z" fill="#1a66dd"/>
<path d="M603.40 416.30L606.50 421.90H600.30Z" fill="#1a66dd"/>
<path d="M630.05 440.40L633.15 446.00H626.95Z" fill="#1a66dd"/>
<path d="M650.20 460.20L653.30 465.80H647.10Z" fill="#1a66dd"/>
<rect x="508.4" y="269.3" width="132.89999999999998" height="44.0" rx="0.8" fill="#fff" stroke="#a8a8a8" stroke-width="0.9"/>
<path d="M509.9 277.4H535" stroke="#a8a8a8" stroke-width="0.9"/>
<rect x="520.20" y="275.10" width="4.8" height="4.6" fill="#666666"/>
<text x="539.8" y="280.5" font-size="9" fill="#000">Via spacing 60 &#181;m</text>
<path d="M509.9 291.3H535" stroke="#f39a9a" stroke-width="0.9"/>
<circle cx="522.60" cy="291.30" r="3.0" fill="#ee3a3a"/>
<text x="539.8" y="294.40000000000003" font-size="9" fill="#000">Via spacing 80 &#181;m</text>
<path d="M509.9 305.2H535" stroke="#86b2ee" stroke-width="0.9"/>
<path d="M522.60 302.30L525.70 307.90H519.50Z" fill="#1a66dd"/>
<text x="539.8" y="308.3" font-size="9" fill="#000">Via spacing 100 &#181;m</text>
<text x="0" y="547.8" font-size="14" font-weight="bold" fill="#000">d</text>
<path d="M47.30 544.6V765.3" stroke="#dcdcdc" stroke-width="0.9"/><path d="M67.47 544.6V765.3" stroke="#f1f1f1" stroke-width="0.8"/><path d="M79.27 544.6V765.3" stroke="#f1f1f1" stroke-width="0.8"/><path d="M87.64 544.6V765.3" stroke="#f1f1f1" stroke-width="0.8"/><path d="M94.13 544.6V765.3" stroke="#f1f1f1" stroke-width="0.8"/><path d="M99.44 544.6V765.3" stroke="#f1f1f1" stroke-width="0.8"/><path d="M103.92 544.6V765.3" stroke="#f1f1f1" stroke-width="0.8"/><path d="M107.81 544.6V765.3" stroke="#f1f1f1" stroke-width="0.8"/><path d="M111.23 544.6V765.3" stroke="#f1f1f1" stroke-width="0.8"/><path d="M114.30 544.6V765.3" stroke="#dcdcdc" stroke-width="0.9"/><path d="M134.47 544.6V765.3" stroke="#f1f1f1" stroke-width="0.8"/><path d="M146.27 544.6V765.3" stroke="#f1f1f1" stroke-width="0.8"/><path d="M154.64 544.6V765.3" stroke="#f1f1f1" stroke-width="0.8"/><path d="M161.13 544.6V765.3" stroke="#f1f1f1" stroke-width="0.8"/><path d="M166.44 544.6V765.3" stroke="#f1f1f1" stroke-width="0.8"/><path d="M170.92 544.6V765.3" stroke="#f1f1f1" stroke-width="0.8"/><path d="M174.81 544.6V765.3" stroke="#f1f1f1" stroke-width="0.8"/><path d="M178.23 544.6V765.3" stroke="#f1f1f1" stroke-width="0.8"/><path d="M181.30 544.6V765.3" stroke="#dcdcdc" stroke-width="0.9"/><path d="M201.47 544.6V765.3" stroke="#f1f1f1" stroke-width="0.8"/><path d="M213.27 544.6V765.3" stroke="#f1f1f1" stroke-width="0.8"/><path d="M221.64 544.6V765.3" stroke="#f1f1f1" stroke-width="0.8"/><path d="M228.13 544.6V765.3" stroke="#f1f1f1" stroke-width="0.8"/><path d="M233.44 544.6V765.3" stroke="#f1f1f1" stroke-width="0.8"/><path d="M237.92 544.6V765.3" stroke="#f1f1f1" stroke-width="0.8"/><path d="M241.81 544.6V765.3" stroke="#f1f1f1" stroke-width="0.8"/><path d="M245.23 544.6V765.3" stroke="#f1f1f1" stroke-width="0.8"/><path d="M248.30 544.6V765.3" stroke="#dcdcdc" stroke-width="0.9"/><path d="M268.47 544.6V765.3" stroke="#f1f1f1" stroke-width="0.8"/><path d="M280.27 544.6V765.3" stroke="#f1f1f1" stroke-width="0.8"/><path d="M288.64 544.6V765.3" stroke="#f1f1f1" stroke-width="0.8"/><path d="M295.13 544.6V765.3" stroke="#f1f1f1" stroke-width="0.8"/><path d="M300.44 544.6V765.3" stroke="#f1f1f1" stroke-width="0.8"/><path d="M304.92 544.6V765.3" stroke="#f1f1f1" stroke-width="0.8"/><path d="M308.81 544.6V765.3" stroke="#f1f1f1" stroke-width="0.8"/><path d="M312.23 544.6V765.3" stroke="#f1f1f1" stroke-width="0.8"/><path d="M315.30 544.6V765.3" stroke="#dcdcdc" stroke-width="0.9"/><path d="M47.3 564.60H321.6" stroke="#dcdcdc" stroke-width="0.9"/><path d="M47.3 591.33H321.6" stroke="#f1f1f1" stroke-width="0.8"/><path d="M47.3 618.06H321.6" stroke="#dcdcdc" stroke-width="0.9"/><path d="M47.3 644.79H321.6" stroke="#f1f1f1" stroke-width="0.8"/><path d="M47.3 671.52H321.6" stroke="#dcdcdc" stroke-width="0.9"/><path d="M47.3 698.25H321.6" stroke="#f1f1f1" stroke-width="0.8"/><path d="M47.3 724.98H321.6" stroke="#dcdcdc" stroke-width="0.9"/><path d="M47.3 751.71H321.6" stroke="#f1f1f1" stroke-width="0.8"/>
<path d="M47.3 765.3H321.6" fill="none" stroke="#333" stroke-width="1.0"/>
<path d="M47.3 544.6V765.3" fill="none" stroke="#333" stroke-width="0.9"/>
<path d="M47.30 765.3v4.5" stroke="#333" stroke-width="0.9"/><path d="M67.47 765.3v2.2" stroke="#333" stroke-width="0.9"/><path d="M79.27 765.3v2.2" stroke="#333" stroke-width="0.9"/><path d="M87.64 765.3v2.2" stroke="#333" stroke-width="0.9"/><path d="M94.13 765.3v2.2" stroke="#333" stroke-width="0.9"/><path d="M99.44 765.3v2.2" stroke="#333" stroke-width="0.9"/><path d="M103.92 765.3v2.2" stroke="#333" stroke-width="0.9"/><path d="M107.81 765.3v2.2" stroke="#333" stroke-width="0.9"/><path d="M111.23 765.3v2.2" stroke="#333" stroke-width="0.9"/><path d="M114.30 765.3v4.5" stroke="#333" stroke-width="0.9"/><path d="M134.47 765.3v2.2" stroke="#333" stroke-width="0.9"/><path d="M146.27 765.3v2.2" stroke="#333" stroke-width="0.9"/><path d="M154.64 765.3v2.2" stroke="#333" stroke-width="0.9"/><path d="M161.13 765.3v2.2" stroke="#333" stroke-width="0.9"/><path d="M166.44 765.3v2.2" stroke="#333" stroke-width="0.9"/><path d="M170.92 765.3v2.2" stroke="#333" stroke-width="0.9"/><path d="M174.81 765.3v2.2" stroke="#333" stroke-width="0.9"/><path d="M178.23 765.3v2.2" stroke="#333" stroke-width="0.9"/><path d="M181.30 765.3v4.5" stroke="#333" stroke-width="0.9"/><path d="M201.47 765.3v2.2" stroke="#333" stroke-width="0.9"/><path d="M213.27 765.3v2.2" stroke="#333" stroke-width="0.9"/><path d="M221.64 765.3v2.2" stroke="#333" stroke-width="0.9"/><path d="M228.13 765.3v2.2" stroke="#333" stroke-width="0.9"/><path d="M233.44 765.3v2.2" stroke="#333" stroke-width="0.9"/><path d="M237.92 765.3v2.2" stroke="#333" stroke-width="0.9"/><path d="M241.81 765.3v2.2" stroke="#333" stroke-width="0.9"/><path d="M245.23 765.3v2.2" stroke="#333" stroke-width="0.9"/><path d="M248.30 765.3v4.5" stroke="#333" stroke-width="0.9"/><path d="M268.47 765.3v2.2" stroke="#333" stroke-width="0.9"/><path d="M280.27 765.3v2.2" stroke="#333" stroke-width="0.9"/><path d="M288.64 765.3v2.2" stroke="#333" stroke-width="0.9"/><path d="M295.13 765.3v2.2" stroke="#333" stroke-width="0.9"/><path d="M300.44 765.3v2.2" stroke="#333" stroke-width="0.9"/><path d="M304.92 765.3v2.2" stroke="#333" stroke-width="0.9"/><path d="M308.81 765.3v2.2" stroke="#333" stroke-width="0.9"/><path d="M312.23 765.3v2.2" stroke="#333" stroke-width="0.9"/><path d="M315.30 765.3v4.5" stroke="#333" stroke-width="0.9"/>
<path d="M47.3 564.60h-4.5" stroke="#333" stroke-width="0.9"/>
<text x="38.9" y="567.6" font-size="8.6" text-anchor="end" fill="#000">0</text>
<path d="M47.3 591.33h-2.2" stroke="#333" stroke-width="0.9"/>
<path d="M47.3 618.06h-4.5" stroke="#333" stroke-width="0.9"/>
<text x="38.9" y="621.0600000000001" font-size="8.6" text-anchor="end" textLength="15.0" lengthAdjust="spacingAndGlyphs" fill="#000">&#8722;20</text>
<path d="M47.3 644.79h-2.2" stroke="#333" stroke-width="0.9"/>
<path d="M47.3 671.52h-4.5" stroke="#333" stroke-width="0.9"/>
<text x="38.9" y="674.52" font-size="8.6" text-anchor="end" textLength="15.0" lengthAdjust="spacingAndGlyphs" fill="#000">&#8722;40</text>
<path d="M47.3 698.25h-2.2" stroke="#333" stroke-width="0.9"/>
<path d="M47.3 724.98h-4.5" stroke="#333" stroke-width="0.9"/>
<text x="38.9" y="727.98" font-size="8.6" text-anchor="end" textLength="15.0" lengthAdjust="spacingAndGlyphs" fill="#000">&#8722;60</text>
<path d="M47.3 751.71h-2.2" stroke="#333" stroke-width="0.9"/>
<text x="47.3" y="781.0" font-size="8.6" text-anchor="middle" fill="#000">0.01</text>
<text x="114.3" y="781.0" font-size="8.6" text-anchor="middle" fill="#000">0.1</text>
<text x="181.3" y="781.0" font-size="8.6" text-anchor="middle" fill="#000">1</text>
<text x="248.3" y="781.0" font-size="8.6" text-anchor="middle" fill="#000">10</text>
<text x="315.3" y="781.0" font-size="8.6" text-anchor="middle" fill="#000">100</text>
<text x="181.3" y="796.8" font-size="8.9" text-anchor="middle" textLength="61" lengthAdjust="spacingAndGlyphs" fill="#000">Frequency (Hz)</text>
<text transform="translate(14.8 654.8) rotate(-90)" x="0" y="0" font-size="9" text-anchor="middle" textLength="124.4" lengthAdjust="spacingAndGlyphs">Normalized output current (dB)</text>
<polyline points="47.30,564.50 67.47,567.00 94.13,570.90 114.30,575.30 134.47,581.90 161.13,596.60 181.30,610.50 201.47,625.70 228.13,647.40 248.30,663.80 268.47,681.30 295.13,704.40 315.30,723.80" fill="none" stroke="#a8a8a8" stroke-width="0.8"/>
<polyline points="47.30,564.80 67.47,567.10 94.13,572.10 114.30,577.70 134.47,586.50 161.13,604.10 181.30,618.70 201.47,634.10 228.13,654.90 248.30,670.80 268.47,686.40 295.13,709.30 315.30,728.50" fill="none" stroke="#f39a9a" stroke-width="0.8"/>
<polyline points="47.30,564.50 67.47,566.20 94.13,571.80 114.30,579.10 134.47,590.50 161.13,608.30 181.30,622.90 201.47,638.10 228.13,660.00 248.30,677.10 268.47,694.60 295.13,719.60 315.30,738.30" fill="none" stroke="#86b2ee" stroke-width="0.8"/>
<rect x="44.90" y="562.20" width="4.8" height="4.6" fill="#666666"/>
<rect x="65.07" y="564.70" width="4.8" height="4.6" fill="#666666"/>
<rect x="91.73" y="568.60" width="4.8" height="4.6" fill="#666666"/>
<rect x="111.90" y="573.00" width="4.8" height="4.6" fill="#666666"/>
<rect x="132.07" y="579.60" width="4.8" height="4.6" fill="#666666"/>
<rect x="158.73" y="594.30" width="4.8" height="4.6" fill="#666666"/>
<rect x="178.90" y="608.20" width="4.8" height="4.6" fill="#666666"/>
<rect x="199.07" y="623.40" width="4.8" height="4.6" fill="#666666"/>
<rect x="225.73" y="645.10" width="4.8" height="4.6" fill="#666666"/>
<rect x="245.90" y="661.50" width="4.8" height="4.6" fill="#666666"/>
<rect x="266.07" y="679.00" width="4.8" height="4.6" fill="#666666"/>
<rect x="292.73" y="702.10" width="4.8" height="4.6" fill="#666666"/>
<rect x="312.90" y="721.50" width="4.8" height="4.6" fill="#666666"/>
<circle cx="47.30" cy="564.80" r="3.0" fill="#ee3a3a"/>
<circle cx="67.47" cy="567.10" r="3.0" fill="#ee3a3a"/>
<circle cx="94.13" cy="572.10" r="3.0" fill="#ee3a3a"/>
<circle cx="114.30" cy="577.70" r="3.0" fill="#ee3a3a"/>
<circle cx="134.47" cy="586.50" r="3.0" fill="#ee3a3a"/>
<circle cx="161.13" cy="604.10" r="3.0" fill="#ee3a3a"/>
<circle cx="181.30" cy="618.70" r="3.0" fill="#ee3a3a"/>
<circle cx="201.47" cy="634.10" r="3.0" fill="#ee3a3a"/>
<circle cx="228.13" cy="654.90" r="3.0" fill="#ee3a3a"/>
<circle cx="248.30" cy="670.80" r="3.0" fill="#ee3a3a"/>
<circle cx="268.47" cy="686.40" r="3.0" fill="#ee3a3a"/>
<circle cx="295.13" cy="709.30" r="3.0" fill="#ee3a3a"/>
<circle cx="315.30" cy="728.50" r="3.0" fill="#ee3a3a"/>
<path d="M47.30 561.60L50.40 567.20H44.20Z" fill="#1a66dd"/>
<path d="M67.47 563.30L70.57 568.90H64.37Z" fill="#1a66dd"/>
<path d="M94.13 568.90L97.23 574.50H91.03Z" fill="#1a66dd"/>
<path d="M114.30 576.20L117.40 581.80H111.20Z" fill="#1a66dd"/>
<path d="M134.47 587.60L137.57 593.20H131.37Z" fill="#1a66dd"/>
<path d="M161.13 605.40L164.23 611.00H158.03Z" fill="#1a66dd"/>
<path d="M181.30 620.00L184.40 625.60H178.20Z" fill="#1a66dd"/>
<path d="M201.47 635.20L204.57 640.80H198.37Z" fill="#1a66dd"/>
<path d="M228.13 657.10L231.23 662.70H225.03Z" fill="#1a66dd"/>
<path d="M248.30 674.20L251.40 679.80H245.20Z" fill="#1a66dd"/>
<path d="M268.47 691.70L271.57 697.30H265.37Z" fill="#1a66dd"/>
<path d="M295.13 716.70L298.23 722.30H292.03Z" fill="#1a66dd"/>
<path d="M315.30 735.40L318.40 741.00H312.20Z" fill="#1a66dd"/>
<rect x="181.4" y="554.4" width="114.1" height="43.80000000000007" rx="0.8" fill="#fff" stroke="#a8a8a8" stroke-width="0.9"/>
<path d="M183.1 562.1H208.3" stroke="#a8a8a8" stroke-width="0.9"/>
<rect x="193.40" y="559.80" width="4.8" height="4.6" fill="#666666"/>
<text x="213.4" y="565.2" font-size="9" fill="#000">Via size 60 &#181;m</text>
<path d="M183.1 576.4H208.3" stroke="#f39a9a" stroke-width="0.9"/>
<circle cx="195.80" cy="576.40" r="3.0" fill="#ee3a3a"/>
<text x="213.4" y="579.5" font-size="9" fill="#000">Via size 80 &#181;m</text>
<path d="M183.1 590.5H208.3" stroke="#86b2ee" stroke-width="0.9"/>
<path d="M195.80 587.60L198.90 593.20H192.70Z" fill="#1a66dd"/>
<text x="213.4" y="593.6" font-size="9" fill="#000">Via size 100 &#181;m</text>
<text x="342.3" y="547.8" font-size="14" font-weight="bold" fill="#000">e</text>
<path d="M382.50 544.6V765.3" stroke="#dcdcdc" stroke-width="0.9"/><path d="M402.65 544.6V765.3" stroke="#f1f1f1" stroke-width="0.8"/><path d="M414.44 544.6V765.3" stroke="#f1f1f1" stroke-width="0.8"/><path d="M422.81 544.6V765.3" stroke="#f1f1f1" stroke-width="0.8"/><path d="M429.30 544.6V765.3" stroke="#f1f1f1" stroke-width="0.8"/><path d="M434.60 544.6V765.3" stroke="#f1f1f1" stroke-width="0.8"/><path d="M439.08 544.6V765.3" stroke="#f1f1f1" stroke-width="0.8"/><path d="M442.96 544.6V765.3" stroke="#f1f1f1" stroke-width="0.8"/><path d="M446.39 544.6V765.3" stroke="#f1f1f1" stroke-width="0.8"/><path d="M449.45 544.6V765.3" stroke="#dcdcdc" stroke-width="0.9"/><path d="M469.60 544.6V765.3" stroke="#f1f1f1" stroke-width="0.8"/><path d="M481.39 544.6V765.3" stroke="#f1f1f1" stroke-width="0.8"/><path d="M489.76 544.6V765.3" stroke="#f1f1f1" stroke-width="0.8"/><path d="M496.25 544.6V765.3" stroke="#f1f1f1" stroke-width="0.8"/><path d="M501.55 544.6V765.3" stroke="#f1f1f1" stroke-width="0.8"/><path d="M506.03 544.6V765.3" stroke="#f1f1f1" stroke-width="0.8"/><path d="M509.91 544.6V765.3" stroke="#f1f1f1" stroke-width="0.8"/><path d="M513.34 544.6V765.3" stroke="#f1f1f1" stroke-width="0.8"/><path d="M516.40 544.6V765.3" stroke="#dcdcdc" stroke-width="0.9"/><path d="M536.55 544.6V765.3" stroke="#f1f1f1" stroke-width="0.8"/><path d="M548.34 544.6V765.3" stroke="#f1f1f1" stroke-width="0.8"/><path d="M556.71 544.6V765.3" stroke="#f1f1f1" stroke-width="0.8"/><path d="M563.20 544.6V765.3" stroke="#f1f1f1" stroke-width="0.8"/><path d="M568.50 544.6V765.3" stroke="#f1f1f1" stroke-width="0.8"/><path d="M572.98 544.6V765.3" stroke="#f1f1f1" stroke-width="0.8"/><path d="M576.86 544.6V765.3" stroke="#f1f1f1" stroke-width="0.8"/><path d="M580.29 544.6V765.3" stroke="#f1f1f1" stroke-width="0.8"/><path d="M583.35 544.6V765.3" stroke="#dcdcdc" stroke-width="0.9"/><path d="M603.50 544.6V765.3" stroke="#f1f1f1" stroke-width="0.8"/><path d="M615.29 544.6V765.3" stroke="#f1f1f1" stroke-width="0.8"/><path d="M623.66 544.6V765.3" stroke="#f1f1f1" stroke-width="0.8"/><path d="M630.15 544.6V765.3" stroke="#f1f1f1" stroke-width="0.8"/><path d="M635.45 544.6V765.3" stroke="#f1f1f1" stroke-width="0.8"/><path d="M639.93 544.6V765.3" stroke="#f1f1f1" stroke-width="0.8"/><path d="M643.81 544.6V765.3" stroke="#f1f1f1" stroke-width="0.8"/><path d="M647.24 544.6V765.3" stroke="#f1f1f1" stroke-width="0.8"/><path d="M650.30 544.6V765.3" stroke="#dcdcdc" stroke-width="0.9"/><path d="M382.5 565.60H656.5" stroke="#dcdcdc" stroke-width="0.9"/><path d="M382.5 594.15H656.5" stroke="#f1f1f1" stroke-width="0.8"/><path d="M382.5 622.70H656.5" stroke="#dcdcdc" stroke-width="0.9"/><path d="M382.5 651.25H656.5" stroke="#f1f1f1" stroke-width="0.8"/><path d="M382.5 679.80H656.5" stroke="#dcdcdc" stroke-width="0.9"/><path d="M382.5 708.35H656.5" stroke="#f1f1f1" stroke-width="0.8"/><path d="M382.5 736.90H656.5" stroke="#dcdcdc" stroke-width="0.9"/>
<path d="M382.5 765.3H656.5" fill="none" stroke="#333" stroke-width="1.0"/>
<path d="M382.5 544.6V765.3" fill="none" stroke="#333" stroke-width="0.9"/>
<path d="M382.50 765.3v4.5" stroke="#333" stroke-width="0.9"/><path d="M402.65 765.3v2.2" stroke="#333" stroke-width="0.9"/><path d="M414.44 765.3v2.2" stroke="#333" stroke-width="0.9"/><path d="M422.81 765.3v2.2" stroke="#333" stroke-width="0.9"/><path d="M429.30 765.3v2.2" stroke="#333" stroke-width="0.9"/><path d="M434.60 765.3v2.2" stroke="#333" stroke-width="0.9"/><path d="M439.08 765.3v2.2" stroke="#333" stroke-width="0.9"/><path d="M442.96 765.3v2.2" stroke="#333" stroke-width="0.9"/><path d="M446.39 765.3v2.2" stroke="#333" stroke-width="0.9"/><path d="M449.45 765.3v4.5" stroke="#333" stroke-width="0.9"/><path d="M469.60 765.3v2.2" stroke="#333" stroke-width="0.9"/><path d="M481.39 765.3v2.2" stroke="#333" stroke-width="0.9"/><path d="M489.76 765.3v2.2" stroke="#333" stroke-width="0.9"/><path d="M496.25 765.3v2.2" stroke="#333" stroke-width="0.9"/><path d="M501.55 765.3v2.2" stroke="#333" stroke-width="0.9"/><path d="M506.03 765.3v2.2" stroke="#333" stroke-width="0.9"/><path d="M509.91 765.3v2.2" stroke="#333" stroke-width="0.9"/><path d="M513.34 765.3v2.2" stroke="#333" stroke-width="0.9"/><path d="M516.40 765.3v4.5" stroke="#333" stroke-width="0.9"/><path d="M536.55 765.3v2.2" stroke="#333" stroke-width="0.9"/><path d="M548.34 765.3v2.2" stroke="#333" stroke-width="0.9"/><path d="M556.71 765.3v2.2" stroke="#333" stroke-width="0.9"/><path d="M563.20 765.3v2.2" stroke="#333" stroke-width="0.9"/><path d="M568.50 765.3v2.2" stroke="#333" stroke-width="0.9"/><path d="M572.98 765.3v2.2" stroke="#333" stroke-width="0.9"/><path d="M576.86 765.3v2.2" stroke="#333" stroke-width="0.9"/><path d="M580.29 765.3v2.2" stroke="#333" stroke-width="0.9"/><path d="M583.35 765.3v4.5" stroke="#333" stroke-width="0.9"/><path d="M603.50 765.3v2.2" stroke="#333" stroke-width="0.9"/><path d="M615.29 765.3v2.2" stroke="#333" stroke-width="0.9"/><path d="M623.66 765.3v2.2" stroke="#333" stroke-width="0.9"/><path d="M630.15 765.3v2.2" stroke="#333" stroke-width="0.9"/><path d="M635.45 765.3v2.2" stroke="#333" stroke-width="0.9"/><path d="M639.93 765.3v2.2" stroke="#333" stroke-width="0.9"/><path d="M643.81 765.3v2.2" stroke="#333" stroke-width="0.9"/><path d="M647.24 765.3v2.2" stroke="#333" stroke-width="0.9"/><path d="M650.30 765.3v4.5" stroke="#333" stroke-width="0.9"/>
<path d="M382.5 565.60h-4.5" stroke="#333" stroke-width="0.9"/>
<text x="374.1" y="568.6" font-size="8.6" text-anchor="end" fill="#000">0</text>
<path d="M382.5 594.15h-2.2" stroke="#333" stroke-width="0.9"/>
<path d="M382.5 622.70h-4.5" stroke="#333" stroke-width="0.9"/>
<text x="374.1" y="625.7" font-size="8.6" text-anchor="end" textLength="15.0" lengthAdjust="spacingAndGlyphs" fill="#000">&#8722;20</text>
<path d="M382.5 651.25h-2.2" stroke="#333" stroke-width="0.9"/>
<path d="M382.5 679.80h-4.5" stroke="#333" stroke-width="0.9"/>
<text x="374.1" y="682.8000000000001" font-size="8.6" text-anchor="end" textLength="15.0" lengthAdjust="spacingAndGlyphs" fill="#000">&#8722;40</text>
<path d="M382.5 708.35h-2.2" stroke="#333" stroke-width="0.9"/>
<path d="M382.5 736.90h-4.5" stroke="#333" stroke-width="0.9"/>
<text x="374.1" y="739.9000000000001" font-size="8.6" text-anchor="end" textLength="15.0" lengthAdjust="spacingAndGlyphs" fill="#000">&#8722;60</text>
<text x="382.5" y="781.0" font-size="8.6" text-anchor="middle" fill="#000">0.01</text>
<text x="449.45" y="781.0" font-size="8.6" text-anchor="middle" fill="#000">0.1</text>
<text x="516.4" y="781.0" font-size="8.6" text-anchor="middle" fill="#000">1</text>
<text x="583.35" y="781.0" font-size="8.6" text-anchor="middle" fill="#000">10</text>
<text x="650.3" y="781.0" font-size="8.6" text-anchor="middle" fill="#000">100</text>
<text x="516.4" y="796.8" font-size="8.9" text-anchor="middle" textLength="61" lengthAdjust="spacingAndGlyphs" fill="#000">Frequency (Hz)</text>
<text transform="translate(350.0 654.8) rotate(-90)" x="0" y="0" font-size="9" text-anchor="middle" textLength="124.4" lengthAdjust="spacingAndGlyphs">Normalized output current (dB)</text>
<polyline points="382.50,565.50 402.65,569.00 429.30,574.90 449.45,582.60 469.60,592.40 496.25,613.40 516.40,628.70 536.55,644.60 563.20,666.50 583.35,683.60 603.50,701.60 630.15,726.80 650.30,748.30" fill="none" stroke="#a8a8a8" stroke-width="0.8"/>
<polyline points="382.50,569.00 402.65,571.80 429.30,577.00 449.45,583.00 469.60,592.40 496.25,611.50 516.40,626.80 536.55,643.20 563.20,665.40 583.35,681.90 603.50,699.50 630.15,723.30 650.30,743.60" fill="none" stroke="#f39a9a" stroke-width="0.8"/>
<polyline points="382.50,574.40 402.65,577.70 429.30,582.60 449.45,587.00 469.60,594.70 496.25,610.60 516.40,625.90 536.55,642.00 563.20,664.40 583.35,680.10 603.50,696.00 630.15,717.00 650.30,736.10" fill="none" stroke="#86b2ee" stroke-width="0.8"/>
<rect x="380.10" y="563.20" width="4.8" height="4.6" fill="#666666"/>
<rect x="400.25" y="566.70" width="4.8" height="4.6" fill="#666666"/>
<rect x="426.90" y="572.60" width="4.8" height="4.6" fill="#666666"/>
<rect x="447.05" y="580.30" width="4.8" height="4.6" fill="#666666"/>
<rect x="467.20" y="590.10" width="4.8" height="4.6" fill="#666666"/>
<rect x="493.85" y="611.10" width="4.8" height="4.6" fill="#666666"/>
<rect x="514.00" y="626.40" width="4.8" height="4.6" fill="#666666"/>
<rect x="534.15" y="642.30" width="4.8" height="4.6" fill="#666666"/>
<rect x="560.80" y="664.20" width="4.8" height="4.6" fill="#666666"/>
<rect x="580.95" y="681.30" width="4.8" height="4.6" fill="#666666"/>
<rect x="601.10" y="699.30" width="4.8" height="4.6" fill="#666666"/>
<rect x="627.75" y="724.50" width="4.8" height="4.6" fill="#666666"/>
<rect x="647.90" y="746.00" width="4.8" height="4.6" fill="#666666"/>
<circle cx="382.50" cy="569.00" r="3.0" fill="#ee3a3a"/>
<circle cx="402.65" cy="571.80" r="3.0" fill="#ee3a3a"/>
<circle cx="429.30" cy="577.00" r="3.0" fill="#ee3a3a"/>
<circle cx="449.45" cy="583.00" r="3.0" fill="#ee3a3a"/>
<circle cx="469.60" cy="592.40" r="3.0" fill="#ee3a3a"/>
<circle cx="496.25" cy="611.50" r="3.0" fill="#ee3a3a"/>
<circle cx="516.40" cy="626.80" r="3.0" fill="#ee3a3a"/>
<circle cx="536.55" cy="643.20" r="3.0" fill="#ee3a3a"/>
<circle cx="563.20" cy="665.40" r="3.0" fill="#ee3a3a"/>
<circle cx="583.35" cy="681.90" r="3.0" fill="#ee3a3a"/>
<circle cx="603.50" cy="699.50" r="3.0" fill="#ee3a3a"/>
<circle cx="630.15" cy="723.30" r="3.0" fill="#ee3a3a"/>
<circle cx="650.30" cy="743.60" r="3.0" fill="#ee3a3a"/>
<path d="M382.50 571.50L385.60 577.10H379.40Z" fill="#1a66dd"/>
<path d="M402.65 574.80L405.75 580.40H399.55Z" fill="#1a66dd"/>
<path d="M429.30 579.70L432.40 585.30H426.20Z" fill="#1a66dd"/>
<path d="M449.45 584.10L452.55 589.70H446.35Z" fill="#1a66dd"/>
<path d="M469.60 591.80L472.70 597.40H466.50Z" fill="#1a66dd"/>
<path d="M496.25 607.70L499.35 613.30H493.15Z" fill="#1a66dd"/>
<path d="M516.40 623.00L519.50 628.60H513.30Z" fill="#1a66dd"/>
<path d="M536.55 639.10L539.65 644.70H533.45Z" fill="#1a66dd"/>
<path d="M563.20 661.50L566.30 667.10H560.10Z" fill="#1a66dd"/>
<path d="M583.35 677.20L586.45 682.80H580.25Z" fill="#1a66dd"/>
<path d="M603.50 693.10L606.60 698.70H600.40Z" fill="#1a66dd"/>
<path d="M630.15 714.10L633.25 719.70H627.05Z" fill="#1a66dd"/>
<path d="M650.30 733.20L653.40 738.80H647.20Z" fill="#1a66dd"/>
<rect x="557.5" y="556.4" width="87.79999999999995" height="43.89999999999998" rx="0.8" fill="#fff" stroke="#a8a8a8" stroke-width="0.9"/>
<path d="M559 564.4H583.8" stroke="#a8a8a8" stroke-width="0.9"/>
<rect x="569.00" y="562.10" width="4.8" height="4.6" fill="#666666"/>
<text x="588.9" y="567.5" font-size="9" fill="#000">Structure 1</text>
<path d="M559 578.6H583.8" stroke="#f39a9a" stroke-width="0.9"/>
<circle cx="571.40" cy="578.60" r="3.0" fill="#ee3a3a"/>
<text x="588.9" y="581.7" font-size="9" fill="#000">Structure 2</text>
<path d="M559 592.7H583.8" stroke="#86b2ee" stroke-width="0.9"/>
<path d="M571.40 589.80L574.50 595.40H568.30Z" fill="#1a66dd"/>
<text x="588.9" y="595.8000000000001" font-size="9" fill="#000">Structure 3</text></svg>
</body></html>
